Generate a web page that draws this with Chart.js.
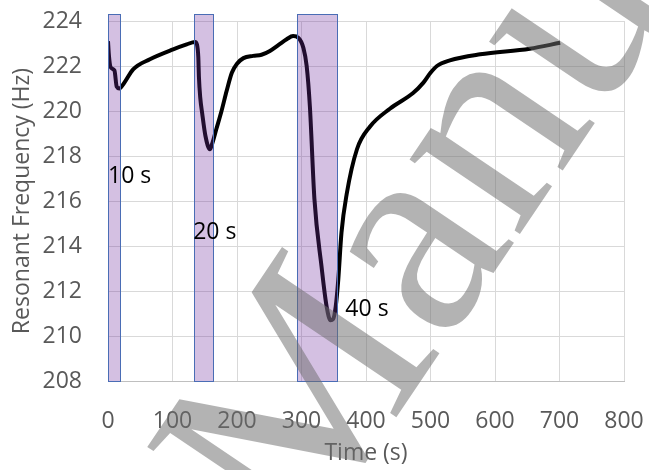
<!DOCTYPE html>
<html>
<head>
<meta charset="utf-8">
<script src="https://cdn.jsdelivr.net/npm/chart.js@4"></script>
<style>body{margin:0;background:#fff}</style>
</head>
<body>
<canvas id="canvas" width="649" height="470"></canvas>
<script>
// time (s) and resonant frequency (Hz)
var times = [0, 1.5, 4, 10, 13.5, 17.5, 24, 39, 65, 101, 122, 135, 138, 140, 141, 143, 146, 151, 158, 161, 168, 176, 184, 192, 200, 210, 225, 238, 251, 265, 277, 287, 295, 303, 308, 313, 320, 331, 339, 345, 349, 353, 357, 362, 370, 386, 406, 437, 473, 489, 500, 510, 530, 577, 654, 701];
var freq = [223.1, 222.45, 221.95, 221.8, 221.08, 221.0, 221.2, 221.85, 222.3, 222.74, 222.96, 223.07, 222.95, 222.4, 221.5, 220.6, 219.9, 218.9, 218.3, 218.5, 219.2, 220.0, 220.9, 221.7, 222.1, 222.35, 222.45, 222.5, 222.67, 222.95, 223.19, 223.33, 223.26, 222.8, 222.0, 220.2, 216.1, 213.1, 211.3, 210.7, 210.75, 211.3, 212.5, 214.6, 216.3, 218.3, 219.3, 220.1, 220.8, 221.26, 221.7, 222.0, 222.25, 222.52, 222.77, 223.03];

// exposure windows
var windowStart = [0, 134, 293];
var windowEnd = [19, 164, 355];
var windowTop = 224.3;
var windowNames = ['10 s', '20 s', '40 s'];
var nameX = [0, 132, 368];
var nameY = [217.1, 214.6, 211.2];

const font = '"Open Sans", sans-serif';

const windowsPlugin = {
  id: 'windows',
  afterDatasetsDraw(chart) {
    const c = chart.ctx, xs = chart.scales.x, ys = chart.scales.y;
    c.save();
    for (let i = 0; i < windowStart.length; i++) {
      const x0 = xs.getPixelForValue(windowStart[i]);
      const x1 = xs.getPixelForValue(windowEnd[i]);
      const y0 = ys.getPixelForValue(windowTop);
      const y1 = ys.getPixelForValue(ys.min);
      c.fillStyle = 'rgba(112,48,160,0.3)';
      c.fillRect(x0, y0, x1 - x0, y1 - y0);
      c.strokeStyle = '#4a6db5';
      c.lineWidth = 1;
      c.strokeRect(Math.round(x0) + 0.5, Math.round(y0) + 0.5, Math.round(x1 - x0), Math.round(y1 - y0));
    }
    c.fillStyle = '#000';
    c.font = '23px ' + font;
    c.textAlign = 'left';
    c.textBaseline = 'middle';
    for (let i = 0; i < windowNames.length; i++) {
      c.fillText(windowNames[i], xs.getPixelForValue(nameX[i]), ys.getPixelForValue(nameY[i]));
    }
    c.restore();
  },
  afterDraw(chart) {
    // "Manuscript" watermark
    const c = chart.ctx;
    c.save();
    c.translate(300, 560);
    c.rotate(-56 * Math.PI / 180);
    c.font = '290px "Liberation Serif", serif';
    c.fillStyle = 'rgba(110,110,110,0.52)';
    c.textBaseline = 'alphabetic';
    c.fillText('Manuscript', 0, 0);
    c.restore();
  }
};

new Chart(document.getElementById('canvas'), {
  type: 'line',
  data: {
    datasets: [{
      data: times.map((t, i) => ({x: t, y: freq[i]})),
      borderColor: '#000',
      borderWidth: 4,
      pointRadius: 0,
      cubicInterpolationMode: 'monotone',
      fill: false
    }]
  },
  options: {
    responsive: false,
    animation: false,
    layout: {padding: {left: 0, right: 25, top: 21, bottom: 0}},
    plugins: {legend: {display: false}, tooltip: {enabled: false}},
    scales: {
      x: {
        type: 'linear',
        min: 0,
        max: 800,
        ticks: {stepSize: 100, color: '#595959', font: {family: font, size: 23}, padding: 27, maxRotation: 0},
        grid: {color: '#d9d9d9', drawTicks: false},
        border: {color: '#bfbfbf'},
        title: {display: true, text: 'Time (s)', color: '#595959', font: {family: font, size: 23}, padding: {top: 0, bottom: 3}},
        afterFit(s) { s.height = 89; s.paddingLeft = 0; s.paddingRight = 0; }
      },
      y: {
        min: 208,
        max: 224,
        ticks: {stepSize: 2, color: '#595959', font: {family: font, size: 23}, padding: 26},
        grid: {color: '#d9d9d9', drawTicks: false},
        border: {display: false},
        title: {display: true, text: 'Resonant Frequency (Hz)', color: '#595959', font: {family: font, size: 23}, padding: {top: 9, bottom: 0}},
        afterFit(s) { s.width = 108; s.paddingTop = 0; s.paddingBottom = 0; }
      }
    }
  },
  plugins: [windowsPlugin]
});
</script>
</body>
</html>
